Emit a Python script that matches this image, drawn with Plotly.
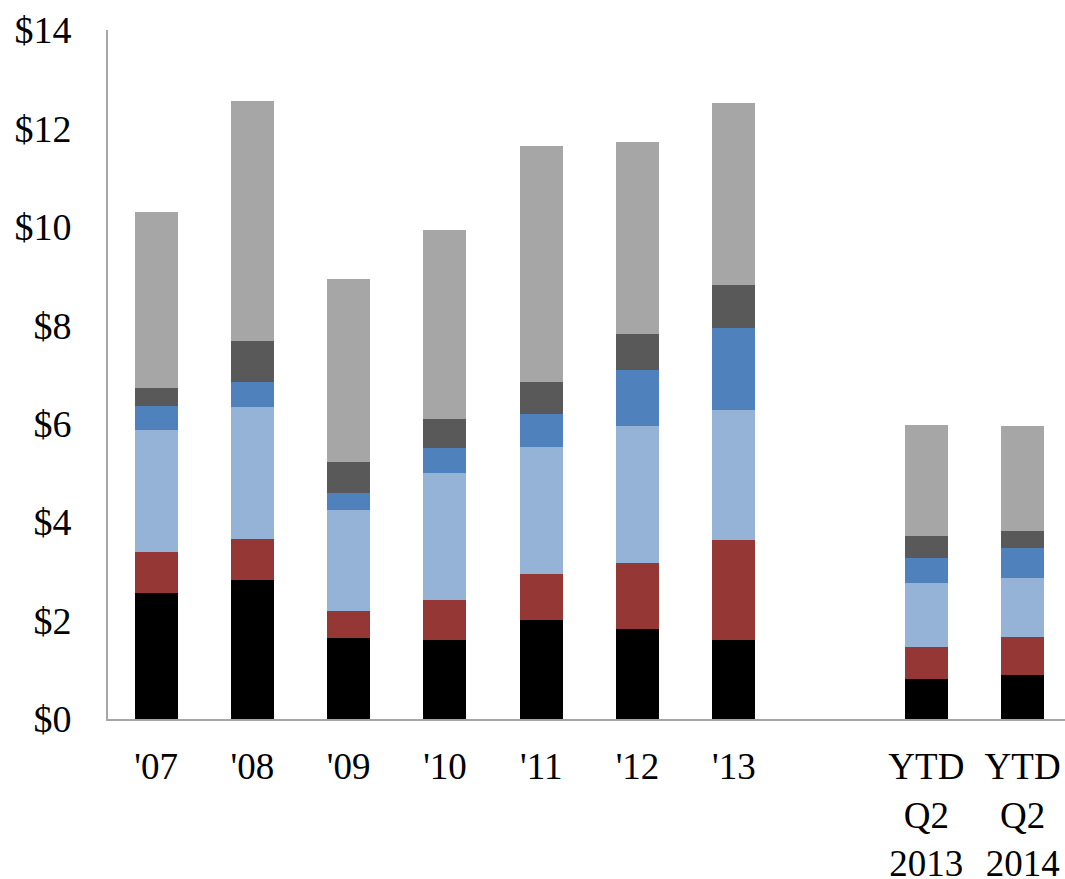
import plotly.graph_objects as go

# Categories (blank slot between '13 and the YTD bars)
categories = ["'07", "'08", "'09", "'10", "'11", "'12", "'13", " ",
              "YTD<br>Q2<br>2013", "YTD<br>Q2<br>2014"]

# Stacked segment values ($), bottom to top; None for the empty slot
seg_black = [2.56, 2.83, 1.65, 1.60, 2.01, 1.82, 1.60, None, 0.81, 0.89]
seg_red = [0.83, 0.82, 0.54, 0.82, 0.94, 1.36, 2.04, None, 0.66, 0.78]
seg_lightblue = [2.49, 2.68, 2.05, 2.57, 2.58, 2.77, 2.63, None, 1.29, 1.20]
seg_blue = [0.47, 0.51, 0.35, 0.51, 0.66, 1.14, 1.67, None, 0.51, 0.60]
seg_darkgray = [0.38, 0.85, 0.63, 0.60, 0.66, 0.74, 0.88, None, 0.44, 0.36]
seg_lightgray = [3.58, 4.87, 3.73, 3.83, 4.80, 3.90, 3.69, None, 2.27, 2.13]

y_tickvals = [0, 2, 4, 6, 8, 10, 12, 14]
y_ticktext = ["$0", "$2", "$4", "$6", "$8", "$10", "$12", "$14"]

series = [
    (seg_black, "#000000"),
    (seg_red, "#953735"),
    (seg_lightblue, "#95B3D7"),
    (seg_blue, "#4F81BD"),
    (seg_darkgray, "#595959"),
    (seg_lightgray, "#A6A6A6"),
]

fig = go.Figure()
for vals, color in series:
    fig.add_trace(go.Bar(
        x=categories, y=vals,
        marker=dict(color=color, line=dict(width=0)),
        showlegend=False,
    ))

font_family = "Liberation Serif, Times New Roman, serif"

fig.update_layout(
    barmode="stack",
    bargap=0.553,
    width=1065, height=879,
    margin=dict(l=108, r=0, t=30, b=160),
    paper_bgcolor="white",
    plot_bgcolor="white",
    font=dict(family=font_family, size=38, color="black"),
    xaxis=dict(
        type="category",
        categoryorder="array",
        categoryarray=categories,
        range=[-0.5, 9.44],
        automargin=False,
        showline=True, linecolor="#A6A6A6", linewidth=2,
        showgrid=False, zeroline=False,
        ticks="", ticklabelstandoff=14,
        tickfont=dict(family=font_family, size=37, color="black"),
    ),
    yaxis=dict(
        range=[0, 14],
        tickvals=y_tickvals, ticktext=y_ticktext,
        automargin=False,
        showline=True, linecolor="#A6A6A6", linewidth=2,
        showgrid=False, zeroline=False,
        ticks="", ticklabelstandoff=27,
        tickfont=dict(family=font_family, size=38, color="black"),
    ),
)

fig.write_html("out.html")
